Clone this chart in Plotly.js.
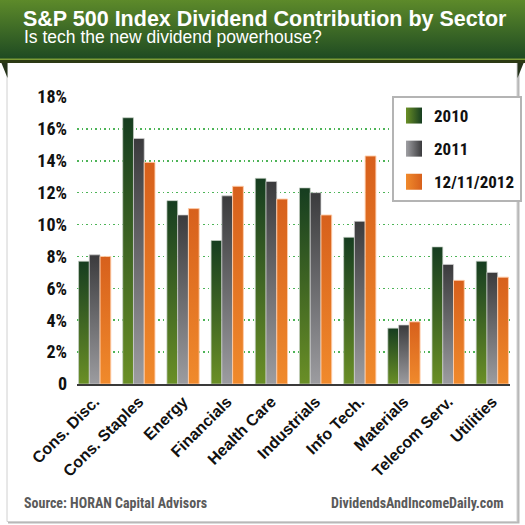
<!DOCTYPE html>
<html>
<head>
<meta charset="utf-8">
<script src="https://cdn.plot.ly/plotly-3.0.1.min.js"></script>
<style>
  html, body { margin: 0; padding: 0; background: #ffffff; }
  #chart { width: 525px; height: 525px; }
</style>
</head>
<body>
<div id="chart"></div>
<script>
// Sector dividend contribution to the S&P 500 (% of total index dividends)
const categories = ['Cons. Disc.', 'Cons. Staples', 'Energy', 'Financials', 'Health Care',
                    'Industrials', 'Info Tech.', 'Materials', 'Telecom Serv.', 'Utilities'];
const seriesNames = ['2010', '2011', '12/11/2012'];
const values2010 = [7.7, 16.7, 11.5, 9.0, 12.9, 12.3, 9.2, 3.5, 8.6, 7.7];
const values2011 = [8.1, 15.4, 10.6, 11.8, 12.7, 12.0, 10.2, 3.7, 7.5, 7.0];
const values2012 = [8.0, 13.9, 11.0, 12.4, 11.6, 10.6, 14.3, 3.9, 6.5, 6.7];
const yTickVals = [0, 2, 4, 6, 8, 10, 12, 14, 16, 18];
const yTickText = ['0', '2%', '4%', '6%', '8%', '10%', '12%', '14%', '16%', '18%'];

const W = 525, H = 525;
const M = { l: 77, r: 15, t: 97, b: 141, autoexpand: false };
const PW = W - M.l - M.r, PH = H - M.t - M.b;
// pixel -> paper coordinate helpers for the decorative frame
const px = x => (x - M.l) / PW;
const py = y => (H - M.b - y) / PH;

const COND = '"Roboto Condensed", "Open Sans Condensed", "DejaVu Sans Condensed", sans-serif';
const SANS = '"Liberation Sans", Arial, sans-serif';

const fills = ['#3c6a24', '#6a6a6e', '#e2701f'];
const edges = ['rgba(200,210,200,0.7)', 'rgba(210,210,210,0.7)', 'rgba(255,205,170,0.9)'];
const allValues = [values2010, values2011, values2012];

const traces = allValues.map((vals, i) => ({
  type: 'bar',
  name: seriesNames[i],
  x: categories,
  y: vals,
  legendgroup: 'g' + i,
  marker: { color: fills[i], line: { color: edges[i], width: 1 } },
  hoverinfo: 'skip'
}));

const shapes = [
  // card shadow and card
  { type: 'rect', xref: 'paper', yref: 'paper', layer: 'below',
    x0: px(8), x1: px(519.5), y0: py(60), y1: py(523.5),
    fillcolor: '#b8b8b8', line: { width: 0 } },
  { type: 'rect', xref: 'paper', yref: 'paper', layer: 'below',
    x0: px(7), x1: px(517), y0: py(60), y1: py(521.5),
    fillcolor: '#ffffff', line: { color: '#d0d0d0', width: 1 } },
  // ribbon folds
  { type: 'path', xref: 'paper', yref: 'paper', layer: 'below',
    path: `M ${px(1)} ${py(62)} L ${px(7.5)} ${py(62)} L ${px(7.5)} ${py(78)} Z`,
    fillcolor: '#25331a', line: { width: 0 } },
  { type: 'path', xref: 'paper', yref: 'paper', layer: 'below',
    path: `M ${px(524)} ${py(62)} L ${px(517.5)} ${py(62)} L ${px(517.5)} ${py(78)} Z`,
    fillcolor: '#25331a', line: { width: 0 } },
  // banner
  { type: 'rect', xref: 'paper', yref: 'paper', layer: 'below', name: 'banner',
    x0: px(0), x1: px(525), y0: py(59), y1: py(0),
    fillcolor: '#3a6226', line: { width: 0 } },
  { type: 'rect', xref: 'paper', yref: 'paper', layer: 'below',
    x0: px(0), x1: px(525), y0: py(60), y1: py(58.5),
    fillcolor: '#7d9c35', line: { width: 0 } },
  { type: 'rect', xref: 'paper', yref: 'paper', layer: 'below',
    x0: px(0), x1: px(525), y0: py(63), y1: py(60),
    fillcolor: '#2c3a14', line: { width: 0 } }
];

const layout = {
  width: W, height: H,
  margin: M,
  paper_bgcolor: 'rgba(0,0,0,0)',
  plot_bgcolor: 'rgba(0,0,0,0)',
  barmode: 'group',
  bargap: 0.27,
  bargroupgap: 0,
  showlegend: true,
  title: {
    text: 'S&P 500 Index Dividend Contribution by Sector',
    font: { family: SANS, size: 21.5, color: '#ffffff', weight: 'bold' },
    xref: 'container', yref: 'container',
    x: 23 / W, xanchor: 'left',
    y: 1 - 11 / H, yanchor: 'top',
    pad: { t: 0, b: 0, l: 0, r: 0 }
  },
  xaxis: {
    type: 'category',
    range: [-0.4, 9.4],
    tickangle: -45,
    tickfont: { family: SANS, size: 16, color: '#111111', weight: 'bold' },
    showline: true, linecolor: '#3a3a3a', linewidth: 2,
    showgrid: false, ticks: '', fixedrange: true
  },
  yaxis: {
    range: [0, 18],
    tickvals: yTickVals,
    ticktext: yTickText,
    tickfont: { family: COND, size: 18, color: '#111111', weight: 'bold' },
    ticklabelstandoff: 9,
    showgrid: true, gridcolor: '#4db457', griddash: '1.5px,3px', gridwidth: 1.5,
    zeroline: false, showline: false, ticks: '', fixedrange: true
  },
  legend: {
    x: px(392), y: py(96), xanchor: 'left', yanchor: 'top',
    xref: 'paper', yref: 'paper',
    bgcolor: '#ffffff', bordercolor: '#b4b4b4', borderwidth: 2,
    font: { family: COND, size: 17, color: '#111111', weight: 'bold' },
    traceorder: 'grouped', tracegroupgap: 8,
    itemclick: false, itemdoubleclick: false
  },
  shapes: shapes,
  annotations: [
    { xref: 'paper', yref: 'paper', x: px(22), y: py(37), xanchor: 'left', yanchor: 'middle',
      text: 'Is tech the new dividend powerhouse?', showarrow: false,
      font: { family: SANS, size: 17.5, color: '#ffffff' } },
    { xref: 'paper', yref: 'paper', x: px(22), y: py(502.5), xanchor: 'left', yanchor: 'middle',
      text: 'Source: HORAN Capital Advisors', showarrow: false,
      font: { family: COND, size: 14, color: '#5a5a5a', weight: 'bold' } },
    { xref: 'paper', yref: 'paper', x: px(506), y: py(502.5), xanchor: 'right', yanchor: 'middle',
      text: 'DividendsAndIncomeDaily.com', showarrow: false,
      font: { family: COND, size: 14, color: '#5a5a5a', weight: 'bold' } }
  ]
};

// Gradient fills for bars, legend swatches and the banner
function addGradients(gd) {
  const svgNS = 'http://www.w3.org/2000/svg';
  const svg = gd.querySelector('svg.main-svg');
  const defs = document.createElementNS(svgNS, 'defs');
  const grads = {
    barG: { dir: 'v', stops: ['#163d20', '#6a8f26'] },
    barS: { dir: 'v', stops: ['#3b3b3d', '#9c9ca0'] },
    barO: { dir: 'v', stops: ['#d7601c', '#f08a2c'] },
    legG: { dir: 'h', stops: ['#6a8f26', '#163d20'] },
    legS: { dir: 'h', stops: ['#a0a0a4', '#3b3b3d'] },
    legO: { dir: 'h', stops: ['#f08a2c', '#d7601c'] },
    bannerGrad: { dir: 'v', stops: ['#5d8a2a', '#1e4a22'] }
  };
  Object.keys(grads).forEach(id => {
    const g = document.createElementNS(svgNS, 'linearGradient');
    g.setAttribute('id', id);
    g.setAttribute('x1', '0'); g.setAttribute('y1', '0');
    g.setAttribute('x2', grads[id].dir === 'h' ? '1' : '0');
    g.setAttribute('y2', grads[id].dir === 'h' ? '0' : '1');
    grads[id].stops.forEach((c, k) => {
      const s = document.createElementNS(svgNS, 'stop');
      s.setAttribute('offset', k === 0 ? '0' : '1');
      s.setAttribute('stop-color', c);
      g.appendChild(s);
    });
    defs.appendChild(g);
  });
  svg.insertBefore(defs, svg.firstChild);

  const barIds = ['barG', 'barS', 'barO'];
  gd.querySelectorAll('g.trace.bars').forEach((t, i) => {
    t.querySelectorAll('g.point path').forEach(p => { p.style.fill = `url(#${barIds[i]})`; });
  });
  const legIds = ['legG', 'legS', 'legO'];
  gd.querySelectorAll('g.legend g.traces').forEach((t, i) => {
    t.querySelectorAll('path.legendbar, path.legendundefined').forEach(p => {
      p.setAttribute('d', 'M8,8H-8V-8H8Z');
      p.style.fill = `url(#${legIds[i]})`;
      p.style.stroke = 'none';
    });
  });
  const bannerIdx = shapes.findIndex(s => s.name === 'banner');
  const shapePaths = gd.querySelectorAll('.layer-below .shapelayer path');
  if (shapePaths[bannerIdx]) shapePaths[bannerIdx].style.fill = 'url(#bannerGrad)';
}

Plotly.newPlot('chart', traces, layout, { displayModeBar: false, staticPlot: true })
  .then(addGradients);
</script>
</body>
</html>
